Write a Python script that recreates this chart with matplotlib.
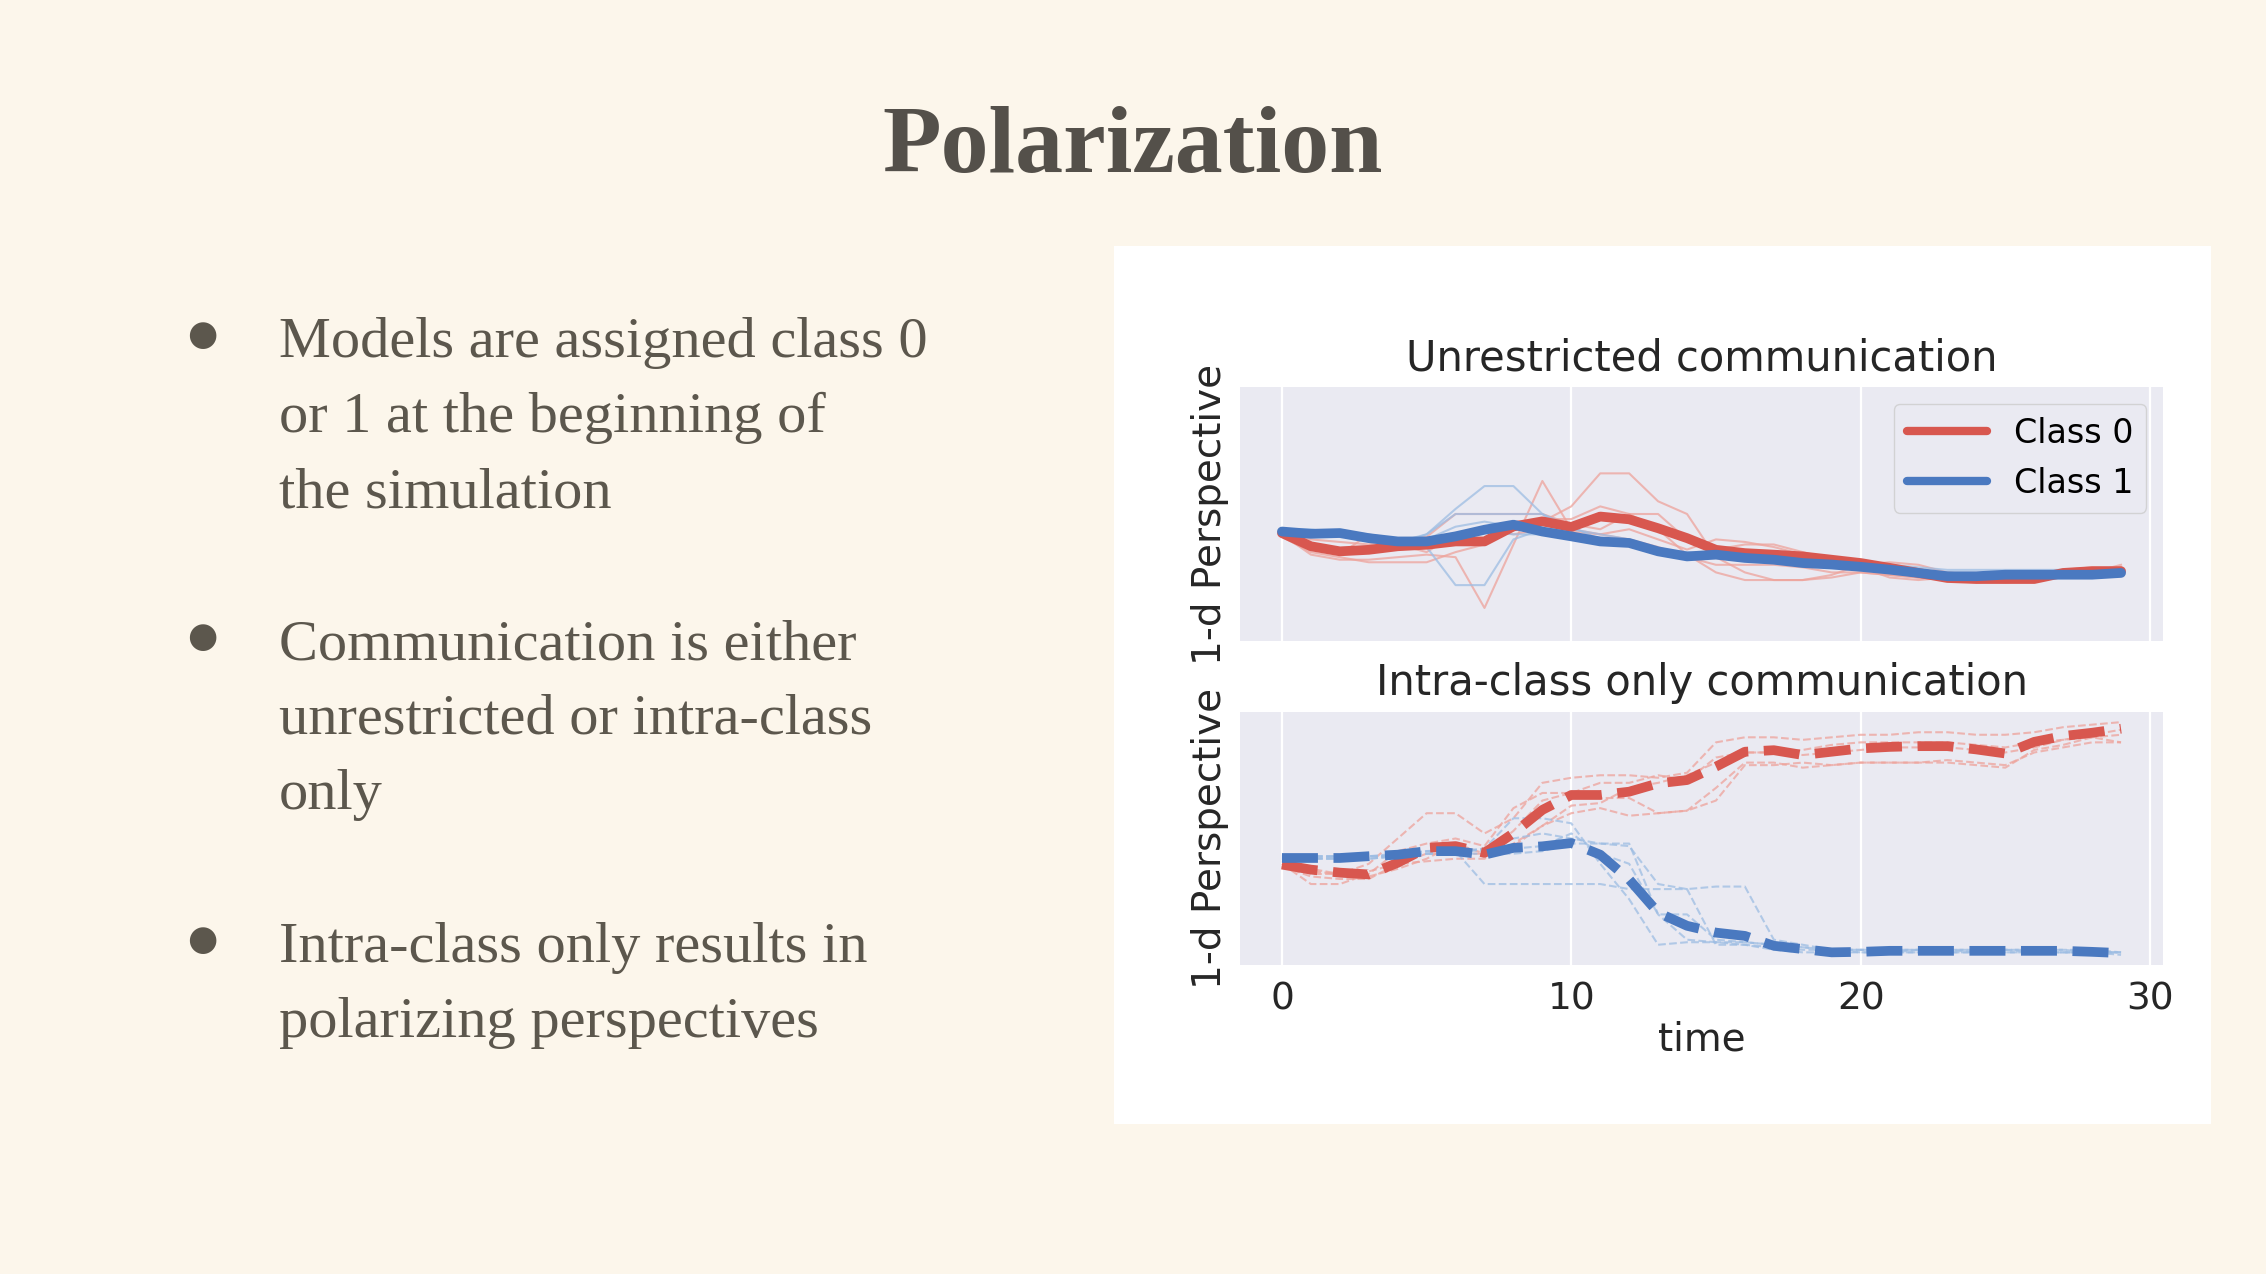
import numpy as np
import matplotlib
matplotlib.use("Agg")
import matplotlib.pyplot as plt
from matplotlib.patches import Rectangle

####################################################
# data (y in axis units 0..1, no y ticks shown)
time = np.arange(30)

unres_class0 = [0.425, 0.373, 0.353, 0.359, 0.373, 0.379, 0.392, 0.392, 0.451, 0.471,
                0.449, 0.490, 0.479, 0.444, 0.405, 0.359, 0.346, 0.340, 0.333, 0.320,
                0.307, 0.288, 0.268, 0.248, 0.244, 0.244, 0.244, 0.268, 0.275, 0.275]
unres_class1 = [0.431, 0.422, 0.425, 0.405, 0.392, 0.392, 0.412, 0.438, 0.458, 0.431,
                0.412, 0.392, 0.386, 0.353, 0.333, 0.340, 0.327, 0.320, 0.307, 0.301,
                0.292, 0.281, 0.268, 0.255, 0.255, 0.261, 0.261, 0.261, 0.261, 0.268]

unres_runs_class0 = [
    [0.42, 0.34, 0.32, 0.32, 0.33, 0.34, 0.33, 0.13, 0.38, 0.63, 0.44, 0.42, 0.40, 0.37, 0.33,
     0.30, 0.30, 0.30, 0.29, 0.27, 0.27, 0.26, 0.25, 0.25, 0.24, 0.24, 0.25, 0.26, 0.28, 0.29],
    [0.42, 0.38, 0.36, 0.35, 0.36, 0.37, 0.40, 0.44, 0.47, 0.47, 0.53, 0.66, 0.66, 0.55, 0.50,
     0.33, 0.27, 0.24, 0.24, 0.25, 0.27, 0.26, 0.25, 0.24, 0.23, 0.24, 0.25, 0.27, 0.28, 0.27],
    [0.43, 0.40, 0.39, 0.38, 0.40, 0.41, 0.50, 0.50, 0.50, 0.50, 0.46, 0.44, 0.50, 0.50, 0.40,
     0.36, 0.38, 0.38, 0.35, 0.32, 0.29, 0.25, 0.24, 0.25, 0.24, 0.23, 0.24, 0.28, 0.29, 0.29],
    [0.41, 0.35, 0.33, 0.31, 0.31, 0.31, 0.35, 0.38, 0.46, 0.48, 0.48, 0.53, 0.50, 0.44, 0.34,
     0.27, 0.24, 0.24, 0.24, 0.26, 0.30, 0.31, 0.30, 0.27, 0.26, 0.25, 0.25, 0.26, 0.27, 0.26],
    [0.42, 0.36, 0.34, 0.42, 0.38, 0.35, 0.42, 0.44, 0.42, 0.44, 0.43, 0.42, 0.44, 0.40, 0.36,
     0.40, 0.39, 0.37, 0.34, 0.31, 0.30, 0.28, 0.25, 0.24, 0.24, 0.24, 0.24, 0.26, 0.27, 0.30],
]
unres_runs_class1 = [
    [0.44, 0.44, 0.42, 0.40, 0.38, 0.42, 0.52, 0.61, 0.61, 0.50, 0.42, 0.40, 0.38, 0.34, 0.33,
     0.34, 0.33, 0.32, 0.31, 0.30, 0.29, 0.28, 0.27, 0.26, 0.26, 0.26, 0.26, 0.26, 0.26, 0.27],
    [0.43, 0.43, 0.42, 0.41, 0.40, 0.37, 0.22, 0.22, 0.40, 0.44, 0.42, 0.40, 0.39, 0.36, 0.34,
     0.33, 0.32, 0.32, 0.31, 0.30, 0.29, 0.28, 0.27, 0.26, 0.26, 0.27, 0.26, 0.26, 0.26, 0.27],
    [0.44, 0.42, 0.42, 0.40, 0.39, 0.42, 0.50, 0.50, 0.50, 0.50, 0.45, 0.40, 0.39, 0.36, 0.33,
     0.36, 0.33, 0.31, 0.30, 0.30, 0.30, 0.30, 0.29, 0.28, 0.28, 0.28, 0.28, 0.28, 0.28, 0.28],
    [0.43, 0.41, 0.43, 0.42, 0.40, 0.40, 0.45, 0.47, 0.45, 0.44, 0.44, 0.42, 0.40, 0.35, 0.32,
     0.33, 0.32, 0.31, 0.31, 0.30, 0.29, 0.28, 0.27, 0.25, 0.25, 0.25, 0.25, 0.25, 0.26, 0.26],
    [0.42, 0.42, 0.41, 0.41, 0.39, 0.38, 0.40, 0.43, 0.42, 0.42, 0.40, 0.38, 0.38, 0.36, 0.35,
     0.34, 0.33, 0.33, 0.32, 0.30, 0.30, 0.29, 0.28, 0.27, 0.26, 0.26, 0.26, 0.26, 0.26, 0.27],
]

intra_class0 = [0.397, 0.377, 0.365, 0.358, 0.404, 0.463, 0.470, 0.443, 0.521, 0.613,
                0.672, 0.672, 0.685, 0.718, 0.731, 0.784, 0.843, 0.849, 0.830, 0.843,
                0.856, 0.862, 0.865, 0.865, 0.852, 0.836, 0.882, 0.905, 0.918, 0.934]
intra_class1 = [0.423, 0.423, 0.423, 0.430, 0.436, 0.450, 0.450, 0.436, 0.463, 0.469,
                0.482, 0.436, 0.338, 0.207, 0.155, 0.128, 0.115, 0.076, 0.063, 0.050,
                0.052, 0.056, 0.056, 0.056, 0.056, 0.056, 0.056, 0.056, 0.052, 0.047]

intra_runs_class0 = [
    [0.41, 0.37, 0.36, 0.40, 0.50, 0.60, 0.60, 0.52, 0.58, 0.72, 0.74, 0.75, 0.75, 0.74, 0.76,
     0.88, 0.90, 0.90, 0.89, 0.90, 0.91, 0.91, 0.92, 0.92, 0.91, 0.91, 0.92, 0.94, 0.95, 0.96],
    [0.40, 0.32, 0.32, 0.36, 0.45, 0.48, 0.50, 0.47, 0.62, 0.68, 0.68, 0.72, 0.72, 0.75, 0.73,
     0.82, 0.84, 0.84, 0.85, 0.87, 0.88, 0.88, 0.88, 0.88, 0.87, 0.86, 0.88, 0.89, 0.90, 0.91],
    [0.39, 0.36, 0.36, 0.37, 0.40, 0.41, 0.42, 0.42, 0.48, 0.55, 0.60, 0.62, 0.59, 0.60, 0.61,
     0.70, 0.80, 0.80, 0.78, 0.79, 0.80, 0.80, 0.80, 0.81, 0.80, 0.79, 0.84, 0.86, 0.88, 0.88],
    [0.39, 0.35, 0.34, 0.34, 0.40, 0.44, 0.44, 0.44, 0.53, 0.65, 0.68, 0.66, 0.66, 0.60, 0.61,
     0.65, 0.79, 0.79, 0.80, 0.79, 0.80, 0.80, 0.80, 0.80, 0.79, 0.78, 0.85, 0.87, 0.90, 0.88],
    [0.40, 0.38, 0.36, 0.35, 0.38, 0.42, 0.48, 0.44, 0.47, 0.55, 0.63, 0.64, 0.70, 0.72, 0.75,
     0.80, 0.84, 0.84, 0.83, 0.84, 0.85, 0.86, 0.86, 0.86, 0.85, 0.84, 0.86, 0.89, 0.91, 0.93],
]
intra_runs_class1 = [
    [0.43, 0.43, 0.43, 0.43, 0.44, 0.45, 0.45, 0.32, 0.32, 0.32, 0.32, 0.32, 0.30, 0.30, 0.30,
     0.08, 0.08, 0.06, 0.05, 0.05, 0.05, 0.05, 0.05, 0.05, 0.05, 0.06, 0.05, 0.05, 0.05, 0.05],
    [0.42, 0.42, 0.42, 0.42, 0.43, 0.44, 0.44, 0.46, 0.50, 0.52, 0.50, 0.48, 0.47, 0.32, 0.30,
     0.31, 0.31, 0.10, 0.08, 0.06, 0.06, 0.05, 0.06, 0.06, 0.05, 0.05, 0.05, 0.05, 0.05, 0.05],
    [0.42, 0.42, 0.43, 0.43, 0.43, 0.44, 0.45, 0.46, 0.58, 0.58, 0.56, 0.40, 0.26, 0.08, 0.09,
     0.09, 0.09, 0.08, 0.07, 0.06, 0.06, 0.06, 0.06, 0.06, 0.06, 0.06, 0.06, 0.06, 0.05, 0.05],
    [0.43, 0.43, 0.43, 0.43, 0.43, 0.44, 0.44, 0.44, 0.44, 0.45, 0.48, 0.48, 0.48, 0.20, 0.10,
     0.09, 0.08, 0.07, 0.06, 0.06, 0.05, 0.05, 0.05, 0.05, 0.05, 0.05, 0.05, 0.05, 0.05, 0.04],
    [0.42, 0.42, 0.42, 0.42, 0.43, 0.45, 0.46, 0.45, 0.46, 0.47, 0.52, 0.44, 0.40, 0.20, 0.20,
     0.10, 0.09, 0.08, 0.07, 0.06, 0.06, 0.06, 0.06, 0.06, 0.06, 0.06, 0.06, 0.06, 0.06, 0.05],
]

xticks = [0, 10, 20, 30]
class_labels = ["Class 0", "Class 1"]

slide_title = "Polarization"
bullets = [
    ["Models are assigned class 0", "or 1 at the beginning of", "the simulation"],
    ["Communication is either", "unrestricted or intra-class", "only"],
    ["Intra-class only results in", "polarizing perspectives"],
]

####################################################
bg = "#fcf6eb"
slide_txt = "#5c574d"
red = "#d8574f"
blue = "#4a79c0"
red_thin = "#eea39b"
blue_thin = "#9dbde3"
axbg = "#eaeaf2"

fig = plt.figure(figsize=(22.66, 12.74), dpi=100)
fig.patch.set_facecolor(bg)

fig.text(0.5, 1 - 149 / 1274, slide_title, ha="center", va="center",
         fontsize=69, fontweight="bold", family="Liberation Serif", color="#54504a")

bullet_baselines = [[357, 432, 507], [659, 734, 809], [962, 1037]]
for lines, bases in zip(bullets, bullet_baselines):
    fig.text(202 / 2266, 1 - (bases[0] - 22) / 1274, "\u25cf", ha="center", va="center",
             fontsize=25, family="DejaVu Sans", color=slide_txt)
    for line, b in zip(lines, bases):
        fig.text(279 / 2266, 1 - b / 1274, line, ha="left", va="baseline",
                 fontsize=42, family="Liberation Serif", color=slide_txt)

# white panel holding the plot
fig.add_artist(Rectangle((1114 / 2266, 1 - 1124 / 1274), 1097 / 2266, 878 / 1274,
                         transform=fig.transFigure, facecolor="white", edgecolor="none", zorder=0))

ax1 = fig.add_axes([1240 / 2266, 1 - 641 / 1274, 923 / 2266, 254 / 1274])
ax2 = fig.add_axes([1240 / 2266, 1 - 965 / 1274, 923 / 2266, 253 / 1274])

txtc = "#262626"
for ax in [ax1, ax2]:
    ax.set_facecolor(axbg)
    for s in ax.spines.values():
        s.set_visible(False)
    ax.set_xlim(-1.45, 30.45)
    ax.set_ylim(0, 1)
    ax.set_xticks(xticks)
    ax.set_yticks([])
    ax.grid(True, axis="x", color="white", lw=1.6)
    ax.set_axisbelow(True)
    ax.tick_params(axis="x", length=0, pad=12, labelsize=27, labelcolor=txtc)
    ax.set_ylabel("1-d Perspective", fontsize=28, color=txtc, labelpad=8, family="DejaVu Sans")

ax1.tick_params(labelbottom=False)

# unrestricted
for run in unres_runs_class0:
    ax1.plot(time, run, color=red_thin, lw=1.5, alpha=0.75)
for run in unres_runs_class1:
    ax1.plot(time, run, color=blue_thin, lw=1.5, alpha=0.75)
ax1.plot(time, unres_class0, color=red, lw=7, label=class_labels[0], solid_capstyle="round")
ax1.plot(time, unres_class1, color=blue, lw=7, label=class_labels[1], solid_capstyle="round")
ax1.set_title("Unrestricted communication", fontsize=30, color=txtc, pad=12)
leg = ax1.legend(loc="upper right", fontsize=24, handlelength=2.4, framealpha=0.8,
                 facecolor=axbg, edgecolor="#cccccc", borderaxespad=0.5)
for h in leg.get_lines():
    h.set_linewidth(6)

# intra-class only
for run in intra_runs_class0:
    ax2.plot(time, run, color=red_thin, lw=1.5, ls="--", alpha=0.75)
for run in intra_runs_class1:
    ax2.plot(time, run, color=blue_thin, lw=1.5, ls="--", alpha=0.75)
ax2.plot(time, intra_class0, color=red, lw=7, ls="--")
ax2.plot(time, intra_class1, color=blue, lw=7, ls="--")
ax2.set_title("Intra-class only communication", fontsize=30, color=txtc, pad=12)
ax2.set_xlabel("time", fontsize=28, color=txtc, labelpad=2)

fig.savefig("out.png", dpi=100, facecolor=bg)
